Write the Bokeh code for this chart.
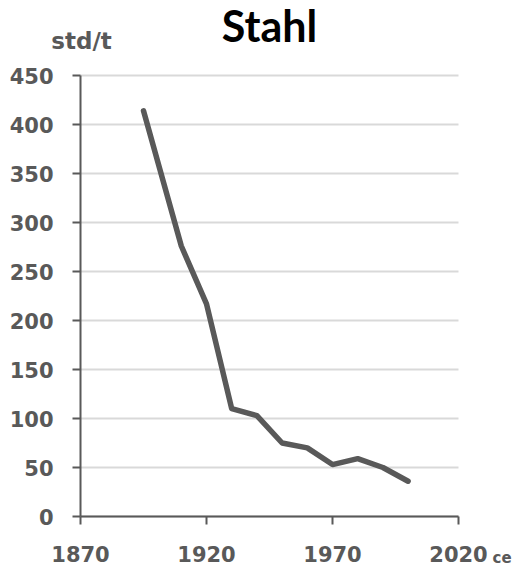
from bokeh.plotting import figure
from bokeh.models import Range1d, Label, FixedTicker, Grid
from bokeh.embed import file_html
from bokeh.resources import INLINE

years = [1895, 1910, 1920, 1930, 1940, 1950, 1960, 1970, 1980, 1990, 2000]
values = [414, 276, 217, 110, 103, 75, 70, 53, 59, 50, 36]
x_ticks = [1870, 1920, 1970, 2020]
y_ticks = [0, 50, 100, 150, 200, 250, 300, 350, 400, 450]

GREY = "#595959"
W, H = 514, 566
# plot area in pixels: left 80, right 458, top 75, bottom 516
XL, XR, YT, YB = 80, 458, 75, 516
x0, x1 = x_ticks[0], x_ticks[-1]
y0, y1 = y_ticks[0], y_ticks[-1]
xs = (XR - XL) / (x1 - x0)
ys = (YB - YT) / (y1 - y0)

p = figure(width=W, height=H, output_backend="svg", toolbar_location=None, title=None,
           x_range=Range1d(x0 - XL / xs, x1 + (W - XR) / xs),
           y_range=Range1d(y0 - (H - YB) / ys, y1 + YT / ys),
           min_border_left=0, min_border_right=0, min_border_top=0, min_border_bottom=0)
p.outline_line_color = None
p.background_fill_color = "white"
p.border_fill_color = "white"

p.xaxis.fixed_location = y0
p.yaxis.fixed_location = x0
p.xaxis.bounds = (x0, x1)
p.yaxis.bounds = (y0, y1)

p.xgrid.grid_line_color = None
if "cross_bounds" in Grid.properties():
    p.ygrid.grid_line_color = "#d9d9d9"
    p.ygrid.grid_line_width = 2
    p.ygrid.cross_bounds = (x0, x1)
    p.ygrid.bounds = (y0, y1)
else:
    p.ygrid.grid_line_color = None
    p.segment(x0=[x0] * len(y_ticks), y0=y_ticks, x1=[x1] * len(y_ticks), y1=y_ticks,
              line_color="#d9d9d9", line_width=2)

p.line(years, values, line_color=GREY, line_width=5.5, line_join="round", line_cap="round")

p.xaxis.ticker = FixedTicker(ticks=x_ticks)
p.yaxis.ticker = FixedTicker(ticks=y_ticks)
for ax in (p.xaxis, p.yaxis):
    ax.axis_line_color = GREY
    ax.axis_line_width = 2
    ax.major_tick_line_color = GREY
    ax.major_tick_line_width = 2
    ax.major_tick_out = 8
    ax.major_tick_in = 0
    ax.minor_tick_line_color = None
    ax.major_label_text_font = "DejaVu Sans"
    ax.major_label_text_font_style = "bold"
    ax.major_label_text_font_size = "21px"
    ax.major_label_text_color = GREY
p.xaxis.major_label_standoff = 21
p.yaxis.major_label_standoff = 19

p.add_layout(Label(x=(x0 + x1) / 2, y=y1, x_offset=0, y_offset=50, text="Stahl", text_align="center",
                   text_baseline="alphabetic", text_font="Lato", text_font_style="bold",
                   text_font_size="43px", text_color="black"))
p.add_layout(Label(x=x0, y=y1, x_offset=1, y_offset=35, text="std/t", text_align="center",
                   text_baseline="alphabetic", text_font="DejaVu Sans", text_font_style="bold",
                   text_font_size="23px", text_color=GREY))
p.add_layout(Label(x=x1, y=y0, x_offset=34, y_offset=-41, text="ce", text_align="left",
                   text_baseline="alphabetic", text_font="DejaVu Sans", text_font_style="bold",
                   text_font_size="15px", text_color=GREY))

open("out.html", "w").write(file_html(p, INLINE))
